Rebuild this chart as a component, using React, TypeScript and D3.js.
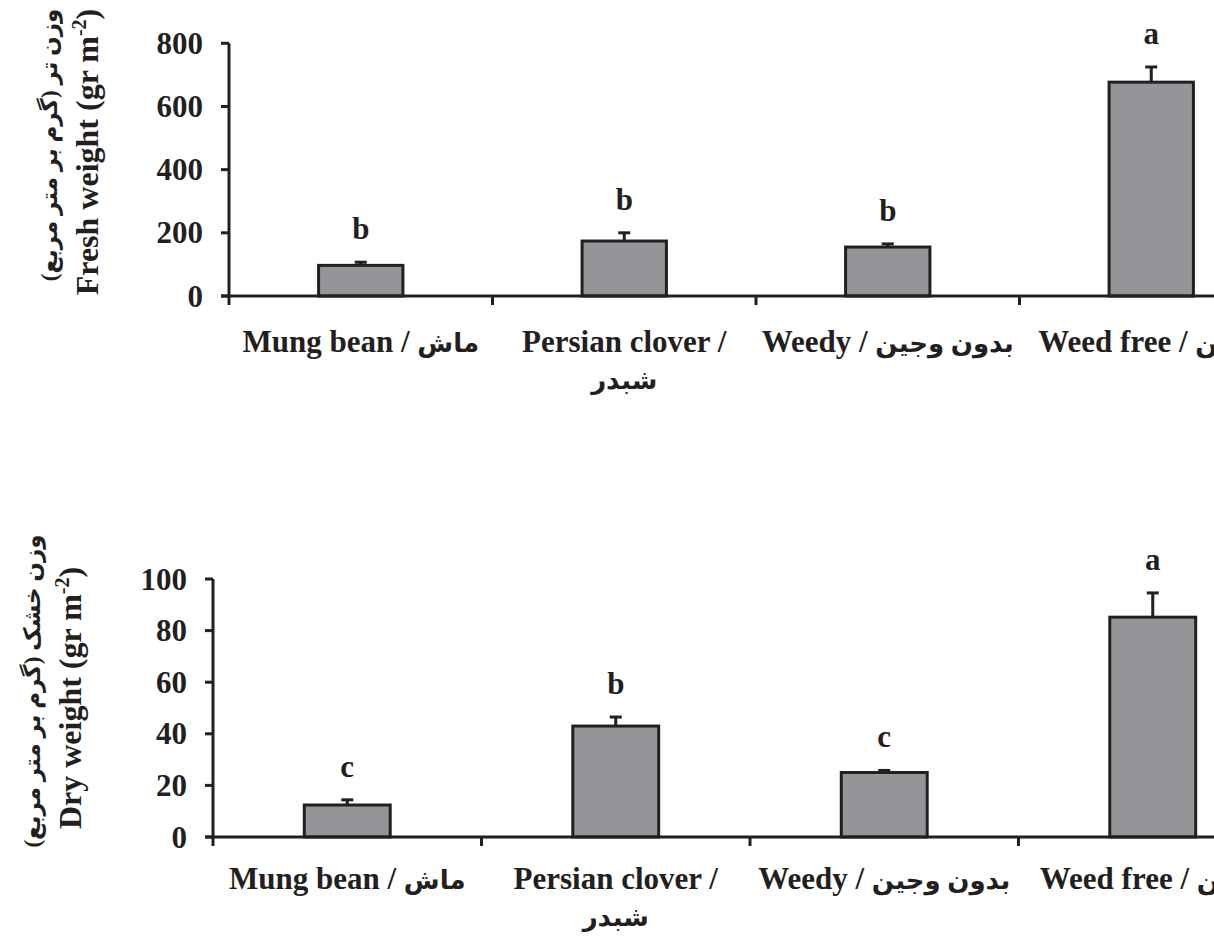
import React from "react";
import * as d3 from "d3";

// ---- data ----
const categories = ["Mung bean", "Persian clover", "Weedy", "Weed free"];
const categoryLabelLines = [
  ["Mung bean / ماش"],
  ["Persian clover /", "شبدر"],
  ["Weedy / بدون وجین"],
  ["Weed free / وجین"],
];

const freshMeans = [97, 174, 155, 677];
const freshErrors = [10, 26, 10, 48];
const freshLetters = ["b", "b", "b", "a"];
const freshTicks = [0, 200, 400, 600, 800];

const dryMeans = [12.4, 43, 25, 85.2];
const dryErrors = [2.0, 3.5, 0.8, 9.4];
const dryLetters = ["c", "b", "c", "a"];
const dryTicks = [0, 20, 40, 60, 80, 100];

const INK = "#231f20";
const BAR_FILL = "#939598";
const LATIN = "'Liberation Serif', 'Times New Roman', 'DejaVu Sans', serif";
const ARABIC_RUN = /([\u0600-\u06FF\u200F][\u0600-\u06FF\u200F ]*)/;

function splitRuns(s: string) {
  return s.split(ARABIC_RUN).filter((r) => r.length > 0);
}
function isArabic(s: string) {
  return /[\u0600-\u06FF]/.test(s);
}

type PanelProps = {
  means: number[];
  errors: number[];
  letters: string[];
  ticks: number[];
  yMax: number;
  x0: number;
  step: number;
  yBottom: number;
  yTop: number;
  titleFa: string;
  titleEn: string;
  titleFaX: number;
  titleEnX: number;
  titleFaY: number;
  titleEnY: number;
  labelOffset: number;
};

function Panel(p: PanelProps) {
  const x = d3
    .scaleBand<string>()
    .domain(categories)
    .range([p.x0, p.x0 + p.step * categories.length])
    .paddingInner(0.68)
    .paddingOuter(0.34);
  const y = d3.scaleLinear().domain([0, p.yMax]).range([p.yBottom, p.yTop]);
  const step = x.step();
  const bw = x.bandwidth();
  const boundaries = d3.range(categories.length + 1).map((i) => p.x0 + i * step);

  return (
    <g>
      {/* bars */}
      {categories.map((c, i) => {
        const cx = (x(c) as number) + bw / 2;
        const top = y(p.means[i]);
        const errTop = y(p.means[i] + p.errors[i]);
        return (
          <g key={c}>
            <line x1={cx} x2={cx} y1={top} y2={errTop} stroke={INK} strokeWidth={3} />
            <line x1={cx - 6} x2={cx + 6} y1={errTop} y2={errTop} stroke={INK} strokeWidth={3} />
            <rect
              x={x(c)}
              y={top}
              width={bw}
              height={p.yBottom - top}
              fill={BAR_FILL}
              stroke={INK}
              strokeWidth={3}
            />
            <text
              x={cx}
              y={errTop - 23}
              textAnchor="middle"
              fontFamily={LATIN}
              fontWeight="bold"
              fontSize={31}
              fill={INK}
            >
              {p.letters[i]}
            </text>
          </g>
        );
      })}
      {/* y axis */}
      <line x1={p.x0} x2={p.x0} y1={y(0) + 1.5} y2={y(p.yMax)} stroke={INK} strokeWidth={3} />
      {p.ticks.map((t) => (
        <g key={t}>
          <line x1={p.x0 - 8} x2={p.x0} y1={y(t)} y2={y(t)} stroke={INK} strokeWidth={3} />
          <text
            x={p.x0 - 26}
            y={y(t)}
            dy="0.34em"
            textAnchor="end"
            fontFamily={LATIN}
            fontWeight="bold"
            fontSize={31}
            fill={INK}
          >
            {t}
          </text>
        </g>
      ))}
      {/* x axis */}
      <line
        x1={p.x0 - 8}
        x2={boundaries[boundaries.length - 1]}
        y1={y(0)}
        y2={y(0)}
        stroke={INK}
        strokeWidth={3}
      />
      {boundaries.map((bx, i) => (
        <line key={i} x1={bx} x2={bx} y1={y(0)} y2={y(0) + 9} stroke={INK} strokeWidth={3} />
      ))}
      {/* category labels */}
      {categories.map((c, i) => {
        const cx = (x(c) as number) + bw / 2;
        return (
          <g key={c}>
            {categoryLabelLines[i].map((ln, j) => (
              <text
                key={j}
                x={cx}
                y={p.yBottom + p.labelOffset + j * 37}
                textAnchor="middle"
                fontFamily={LATIN}
                fontWeight="bold"
                fontSize={31}
                fill={INK}
              >
                {splitRuns(ln).map((r, k) => (
                  <tspan key={k} fontSize={isArabic(r) ? 26 : 31}>
                    {r}
                  </tspan>
                ))}
              </text>
            ))}
          </g>
        );
      })}
      {/* y title */}
      <text
        transform={`translate(${p.titleFaX},${p.titleFaY}) rotate(-90)`}
        textAnchor="middle"
        fontFamily={LATIN}
        fontWeight="bold"
        fontSize={23}
        fill={INK}
      >
        {p.titleFa + "\u200F"}
      </text>
      <text
        transform={`translate(${p.titleEnX},${p.titleEnY}) rotate(-90)`}
        textAnchor="middle"
        fontFamily={LATIN}
        fontWeight="bold"
        fontSize={32}
        fill={INK}
      >
        {p.titleEn}
        <tspan fontSize={20} dy={-12}>-2</tspan>
        <tspan dy={12}>)</tspan>
      </text>
    </g>
  );
}

export default function App() {
  return (
    <svg
      width={1214}
      height={936}
      style={{ position: "absolute", left: 0, top: 0, background: "#fff" }}
    >
      <rect width={1214} height={936} fill="#fff" />
      <Panel
        means={freshMeans}
        errors={freshErrors}
        letters={freshLetters}
        ticks={freshTicks}
        yMax={800}
        x0={229}
        step={263.5}
        yBottom={296}
        yTop={43.3}
        titleFa="وزن تر (گرم بر متر مربع)"
        titleEn="Fresh weight (gr m"
        titleFaX={57}
        titleEnX={98}
        titleFaY={145}
        titleEnY={152}
        labelOffset={56}
      />
      <Panel
        means={dryMeans}
        errors={dryErrors}
        letters={dryLetters}
        ticks={dryTicks}
        yMax={100}
        x0={213}
        step={268.5}
        yBottom={837}
        yTop={579}
        titleFa="وزن خشک (گرم بر متر مربع)"
        titleEn="Dry weight (gr m"
        titleFaX={40}
        titleEnX={81}
        titleFaY={691}
        titleEnY={698}
        labelOffset={52}
      />
    </svg>
  );
}
